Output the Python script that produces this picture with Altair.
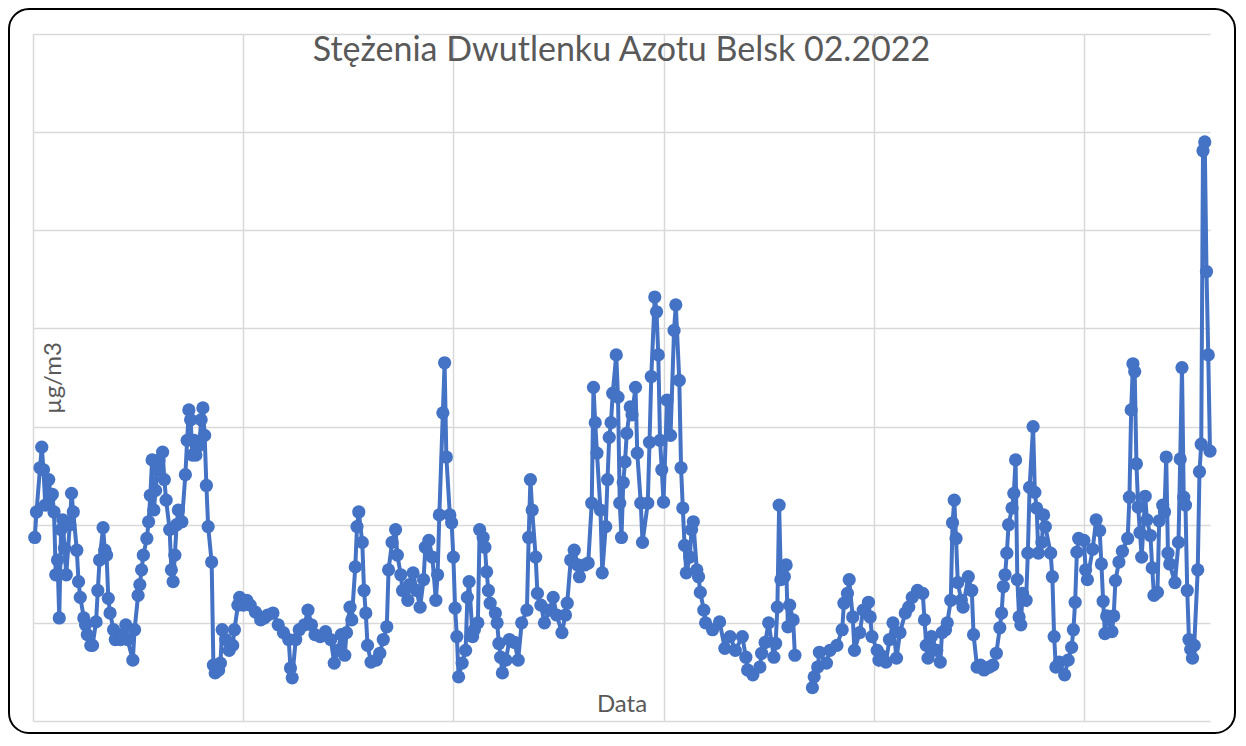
import altair as alt
import pandas as pd

# godzina pomiaru (od 1.02.2022 00:00) i stężenie NO2 [µg/m3]; None = brak danych
godzina = [
    1, 2, 4, 5, 6, 7, 9, 10, 11, 12, 13, 14, 15, 16, 17, 18, 19, 21, 22, 23,
    25, 26, 27, 29, 30, 31, 33, 34, 36, 37, 38, 40, 41, 42, 43, 44, 46, 47, 50, 51,
    53, 54, 57, 58, 60, 61, 62, 63, 65, 66, 67, 68, 69, 70, 71, 72, 74, 75, 76, 78,
    79, 80, 81, 82, 83, 85, 87, 88, 89, 90, 91, 92, 93, 95, 96, 97, 98, 99, 100, 102,
    103, 104, 106, 107, 108, 110, 112, 114, 115, 117, 118, 120,
    122, 124, 127, 130, 132, 134, 137, 140, 143, 146, 147, 148, 150, 152, 155, 157, 159, 161,
    164, 167, 170, 172, 174, 176, 178, 179, 181, 182, 184, 185, 186, 188, 189, 190, 191, 193,
    196, 198, 200, 202, 203, 205, 207, 208, 210, 211, 214, 215, 217, 219, 221, 223, 224, 226,
    228, 230, 231, 232, 234, 235, 236, 238, 239, 240,
    241, 242, 243, 245, 247, 248, 249, 251, 252, 254, 255, 257, 258, 259, 260, 261, 264, 265,
    266, 267, 268, 270, 272, 275, 277, 279, 282, 283, 284, 285, 287, 288, 290, 292, 295, 297,
    299, 302, 304, 305, 307, 309, 311, 312, 315, 317, 319, 320, 321, 322, 324, 325, 327, 328,
    329, 330, 331, 333, 334, 335, 336, 337, 338, 339, 341, 342, 344, 345, 347, 348, 351, 352,
    353, 355, 356, 357, 358, 359, 360,
    362, 364, 366, 367, 369, 370, 371, 372, 373, 375, 376, 377, 379, 380, 381, 383, 384, 388,
    392, 395, 398, 401, 405, 407, 408, 411, 415, 416, 418, 420, 423, 424, 425, 426, 427, 429,
    430, 431, 432, 434, 435, 440,
    445, 446, 448, 449, 453, 455, 459, 462, 463, 465, 466, 468, 469, 472, 474, 477, 478, 479,
    482, 483, 484, 487, 489, 491, 493, 495, 498, 500, 502, 505, 508, 509, 510, 511, 513, 516,
    518, 519, 521, 522, 524, 525, 526, 527, 528, 530, 531, 534, 536, 537, 539, 541, 543, 546,
    548, 550, 552, 553, 554, 555, 556, 557, 559, 560, 561, 562, 563, 564, 565, 567, 568, 569,
    571, 572, 573, 574, 576, 577, 578, 581, 582, 583, 584, 586, 589, 591, 593, 594, 595, 596,
    597, 600, 601, 602,
    605, 607, 609, 610, 611, 612, 613, 616, 617, 618, 620, 622, 625, 626, 627, 628, 629, 630,
    631, 632, 633, 635, 636, 638, 639, 640, 642, 643, 645, 646, 647, 648, 649, 652, 654, 655,
    656, 657, 658, 659, 660, 661, 662, 663, 665, 666, 667, 668, 669, 670, 671, 672,
]

no2 = [
    18.7, 21.3, 25.8, 27.9, 25.6, 22.0, 24.6, 22.9, 23.1, 21.3, 14.9, 16.4, 10.5, 19.5, 20.5, 17.6, 14.9, 20.0, 23.2, 21.3,
    17.4, 14.2, 12.6, 10.5, 9.8, 8.8, 7.7, 7.7, 10.1, 13.3, 16.4, 19.7, 17.4, 16.9, 12.5, 11.0, 9.3, 8.3, 8.3, 8.8,
    9.8, 8.3, 6.2, 9.3, 12.8, 13.9, 15.4, 16.9, 18.6, 20.3, 23.0, 26.6, 21.5, 23.5, 25.6, 26.6, 27.4, 24.6, 22.5, 19.5,
    15.4, 14.2, 16.9, 20.0, 21.5, 20.3, 25.1, 28.6, 31.7, 30.7, 27.1, 28.6, 27.1, 28.1, 30.7, 31.9, 29.1, 24.0, 19.8, 16.2,
    5.7, 4.9, 5.2, 5.9, 9.3, 8.3, 7.2, 7.7, 9.3, 11.8, 12.6, 11.8,
    12.3, 11.8, 11.1, 10.3, 10.5, 10.8, 11.0, 9.8, 9.0, 8.3, 5.4, 4.4, 8.3, 9.3, 9.8, 11.3, 9.8, 8.8,
    8.6, 9.1, 8.3, 5.9, 7.2, 8.8, 6.7, 9.0, 11.6, 10.3, 15.7, 19.8, 21.3, 18.2, 13.3, 11.0, 7.7, 6.0,
    6.2, 6.9, 8.3, 9.6, 15.4, 18.2, 19.5, 16.9, 14.9, 13.3, 12.3, 13.9, 15.1, 13.3, 11.6, 14.4, 17.7, 18.4,
    16.7, 12.3, 14.9, 21.0, 31.4, 36.5, 26.9, 21.0, 20.2, 16.7,
    11.5, 8.6, 4.5, 5.9, 7.2, 12.6, 14.2, 8.6, 9.3, 10.0, 19.5, 18.7, 17.7, 15.2, 13.3, 12.0, 11.0, 10.0,
    7.9, 6.5, 4.9, 6.2, 8.3, 8.0, 6.2, 10.0, 11.3, 18.7, 24.6, 21.5, 16.7, 13.0, 11.8, 10.0, 11.3, 12.6,
    10.8, 9.0, 10.8, 12.0, 16.4, 17.4, 15.9, 14.7, 15.9, 16.1, 22.2, 34.0, 30.4, 27.3, 21.5, 15.1, 19.8, 24.6,
    28.9, 30.4, 33.4, 37.3, 33.0, 22.2, 18.7, 24.3, 26.4, 29.3, 32.0, 31.2, 34.0, 27.3, 22.2, 18.2, 22.2, 28.4,
    35.1, 43.2, 41.7, 37.3, 28.6, 25.6, 22.3,
    32.7, 29.1, 39.8, 42.4, 34.7, 25.8, 21.7, 17.9, 15.1, 16.7, 19.5, 20.3, 15.4, 14.7, 13.1, 11.3, 10.0, 9.3,
    10.1, 7.4, 8.6, 7.2, 8.6, 6.5, 5.2, 4.7, 5.5, 6.9, 8.0, 10.0, 6.5, 7.9, 11.6, 22.0, 14.4, 14.7,
    15.9, 9.6, 11.8, 10.3, 6.7, None,
    3.4, 4.5, 5.5, 7.0, 5.9, 7.2, 7.7, 9.3, 12.0, 13.0, 14.4, 10.6, 7.2, 9.0, 11.3, 12.1, 10.6, 8.6,
    7.2, 6.2, 6.7, 6.0, 8.3, 10.0, 6.4, 9.0, 11.0, 11.6, 12.6, 13.3, 13.0, 10.3, 7.7, 6.4, 8.6, 7.2,
    6.0, 9.0, 9.3, 10.0, 12.3, 20.2, 22.5, 18.6, 14.1, 12.3, 11.6, 14.7, 13.3, 8.8, 5.5, 5.7, 5.2, 5.5,
    5.7, 6.9, 9.5, 11.0, 13.7, 14.9, 17.1, 20.0, 21.7, 23.2, 26.6, 14.4, 10.6, 9.8, 13.0, 12.3, 17.1, 23.8,
    30.0, 23.3, 21.7, 17.1, 18.2, 21.0, 19.8, 17.1, 14.7, 8.6, 5.5, 6.0, 4.7, 6.2, 7.5, 9.3, 12.1, 17.2,
    18.6, 18.4, 15.4, 14.4,
    17.5, 20.5, 19.4, 16.0, 12.2, 8.9, 10.7, 9.1, 10.7, 14.3, 16.2, 17.3, 18.6, 22.8, 31.7, 36.4, 35.6, 26.2,
    21.8, 19.2, 16.7, 22.9, 20.5, 18.9, 15.6, 12.8, 13.1, 20.4, 22.0, 21.3, 26.9, 17.1, 16.0, 14.1, 18.2, 26.7,
    36.0, 22.8, 22.0, 13.3, 8.3, 7.3, 6.4, 7.7, 15.4, 25.4, 28.2, 58.1, 59.0, 45.8, 37.3, 27.5,
]

siatka_y = [0, 10, 20, 30, 40, 50, 60, 70]
siatka_x = [0, 120, 240, 360, 480, 600]

tytul = "Stężenia Dwutlenku Azotu Belsk 02.2022"
tytul_x = "Data"
tytul_y = "µg/m3"

df = pd.DataFrame({"godzina": godzina, "no2": no2})
df["odcinek"] = df["no2"].isna().cumsum()
df = df.dropna()

NIEBIESKI = "#4472C4"
SZARY = "#595959"
FONT = "Lato"

ramka = alt.Chart(pd.DataFrame({"r": [0]})).mark_rect(
    fill="white", fillOpacity=0, stroke="black", strokeWidth=2, cornerRadius=20
).encode(
    x=alt.value(-24), x2=alt.value(1202), y=alt.value(-25), y2=alt.value(699)
)

linia = alt.Chart(df).mark_line(
    color=NIEBIESKI,
    strokeWidth=4,
    point=alt.OverlayMarkDef(filled=True, size=175, color=NIEBIESKI, opacity=1),
).encode(
    x=alt.X(
        "godzina:Q",
        scale=alt.Scale(domain=[0, 672], nice=False, zero=False),
        axis=alt.Axis(
            values=siatka_x, labels=False, ticks=False, domain=False, grid=True,
            title=tytul_x, titleX=588.5, titleY=-10, titleAlign="center",
            titleBaseline="alphabetic", titleFont=FONT, titleFontSize=24,
            titleFontWeight="normal", titleColor=SZARY,
        ),
    ),
    y=alt.Y(
        "no2:Q",
        scale=alt.Scale(domain=[0, 70], nice=False, zero=True),
        axis=alt.Axis(
            values=siatka_y, labels=False, ticks=False, domain=False, grid=True,
            title=tytul_y, titleAngle=270, titleX=27, titleY=343.5, titleAlign="center",
            titleBaseline="alphabetic", titleFont=FONT, titleFontSize=24,
            titleFontWeight="normal", titleColor=SZARY,
        ),
    ),
    detail="odcinek:N",
)

chart = alt.layer(ramka, linia).properties(
    width=1177,
    height=687,
    padding={"left": 25, "top": 26, "right": 26, "bottom": 13},
    autosize=alt.AutoSizeParams(type="none"),
    title=alt.TitleParams(
        text=tytul, font=FONT, fontSize=34, fontWeight="normal", color=SZARY,
        anchor="middle", baseline="alphabetic", offset=-87,
    ),
).configure_view(strokeWidth=0).configure_axis(
    gridColor="#D9D9D9", gridWidth=1.5
)

chart.save("out.html", embed_options={"renderer": "svg", "actions": False})
